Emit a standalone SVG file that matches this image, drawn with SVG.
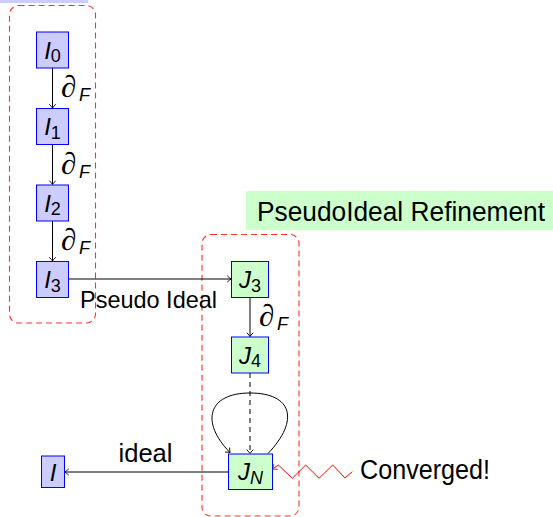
<svg xmlns="http://www.w3.org/2000/svg" width="553" height="517" viewBox="0 0 553 517">
<style>
.bg{fill:#ffffff}
.nb{fill:#ccccff;stroke:#0000ff;stroke-width:1}
.ng{fill:#ccffcc;stroke:#0000ff;stroke-width:1}
.lbl{font-family:"Liberation Sans",Arial,sans-serif;font-size:24px;fill:#000;text-anchor:middle}
.it{font-style:italic}
.sub{font-size:18px}
.txt{font-family:"Liberation Sans",Arial,sans-serif;fill:#000}
.d{font-family:"Liberation Serif","DejaVu Serif",serif;font-size:31px;font-style:italic;fill:#000}
.df{font-family:"Liberation Sans",Arial,sans-serif;font-size:18px;font-style:italic;fill:#000}
.edge{fill:none;stroke:#000;stroke-width:1}
.grp{fill:none;stroke:#ff3030;stroke-width:1.1;stroke-dasharray:6 4}
</style>
<defs>
<marker id="ah" markerUnits="userSpaceOnUse" markerWidth="10" markerHeight="10" refX="0" refY="0" viewBox="-5 -5 10 10" orient="auto">
<path d="M -3.8 -3.2 Q -1 -0.6 0 0 Q -1 0.6 -3.8 3.2" fill="none" stroke="#000" stroke-width="0.9"/>
</marker>
<marker id="ahr" markerUnits="userSpaceOnUse" markerWidth="10" markerHeight="10" refX="0" refY="0" viewBox="-5 -5 10 10" orient="auto">
<path d="M -3.8 -3.2 Q -1 -0.6 0 0 Q -1 0.6 -3.8 3.2" fill="none" stroke="#ff0000" stroke-width="0.9"/>
</marker>
</defs>
<rect class="bg" x="0" y="0" width="553" height="517"/>
<rect x="0" y="0" width="88" height="3" fill="#ccccff"/>

<g id="title">
<rect x="246" y="191" width="320" height="39" fill="#ccffcc"/>
<text class="txt" x="257" y="221" font-size="27" textLength="288" lengthAdjust="spacingAndGlyphs">PseudoIdeal Refinement</text>
</g>

<g id="groups">
<rect class="grp" x="9.5" y="5.5" width="86" height="317.5" rx="9"/>
<rect class="grp" x="202" y="234.5" width="97" height="281.5" rx="9"/>
</g>

<g id="connectors">
<line class="edge" x1="52.5" y1="68" x2="52.5" y2="108" marker-end="url(#ah)"/>
<line class="edge" x1="52.5" y1="144.5" x2="52.5" y2="184.5" marker-end="url(#ah)"/>
<line class="edge" x1="52.5" y1="221" x2="52.5" y2="261" marker-end="url(#ah)"/>
<line class="edge" x1="68.5" y1="279" x2="231" y2="279" stroke="#333" marker-end="url(#ah)"/>
<line class="edge" x1="250" y1="297.5" x2="250" y2="336.5" marker-end="url(#ah)"/>
<line class="edge" x1="250" y1="373" x2="250" y2="453.5" stroke-dasharray="5 4" marker-end="url(#ah)"/>
<path class="edge" d="M 268 453.5 C 300 420, 292 393, 250 393 C 208 393, 200 422, 230 452.5" marker-end="url(#ah)"/>
<line class="edge" x1="228.5" y1="472" x2="65" y2="472" stroke="#444" marker-end="url(#ah)"/>
<polyline fill="none" stroke="#ff0000" stroke-width="1" points="352.3,471.7 345,478 332.7,465 319,478.3 305.7,465 292.3,478.3 278.3,465 272.5,469" marker-end="url(#ahr)"/>
<text class="d" x="61" y="97">∂</text><text class="df" x="79" y="101">F</text>
<text class="d" x="61" y="173.5">∂</text><text class="df" x="79" y="177.5">F</text>
<text class="d" x="61" y="250">∂</text><text class="df" x="79" y="254">F</text>
<text class="d" x="259" y="326">∂</text><text class="df" x="277" y="330">F</text>
<text class="txt" x="80" y="308" font-size="24" textLength="137" lengthAdjust="spacingAndGlyphs">Pseudo Ideal</text>
<text class="txt" x="118.5" y="462" font-size="26" textLength="54" lengthAdjust="spacingAndGlyphs">ideal</text>
</g>

<g id="I0"><rect class="nb" x="36.5" y="32" width="32" height="36"/>
<text class="lbl" x="52.5" y="58.5"><tspan class="it">I</tspan><tspan class="sub" dy="3.5">0</tspan></text></g>
<g id="I1"><rect class="nb" x="36.5" y="108.5" width="32" height="36"/>
<text class="lbl" x="52.5" y="135"><tspan class="it">I</tspan><tspan class="sub" dy="3.5">1</tspan></text></g>
<g id="I2"><rect class="nb" x="36.5" y="185" width="32" height="36"/>
<text class="lbl" x="52.5" y="211.5"><tspan class="it">I</tspan><tspan class="sub" dy="3.5">2</tspan></text></g>
<g id="I3"><rect class="nb" x="36.5" y="261.5" width="32" height="36"/>
<text class="lbl" x="52.5" y="288"><tspan class="it">I</tspan><tspan class="sub" dy="3.5">3</tspan></text></g>
<g id="J3"><rect class="ng" x="231.5" y="261.5" width="37" height="36"/>
<text class="lbl" x="250" y="288"><tspan class="it">J</tspan><tspan class="sub" dy="3.5">3</tspan></text></g>
<g id="J4"><rect class="ng" x="231.5" y="337" width="37" height="36"/>
<text class="lbl" x="250" y="363.5"><tspan class="it">J</tspan><tspan class="sub" dy="3.5">4</tspan></text></g>
<g id="JN"><rect class="ng" x="228.5" y="454" width="44" height="35.5"/>
<text class="lbl" x="250.5" y="480"><tspan class="it">J</tspan><tspan class="sub it" dy="3.5">N</tspan></text></g>
<g id="I"><rect class="nb" x="41.5" y="456" width="23" height="31.5"/>
<text class="lbl it" x="53" y="480.5" font-size="25">I</text></g>
<g id="converged">
<text class="txt" x="360" y="479" font-size="27" textLength="130" lengthAdjust="spacingAndGlyphs">Converged!</text>
</g>
</svg>
